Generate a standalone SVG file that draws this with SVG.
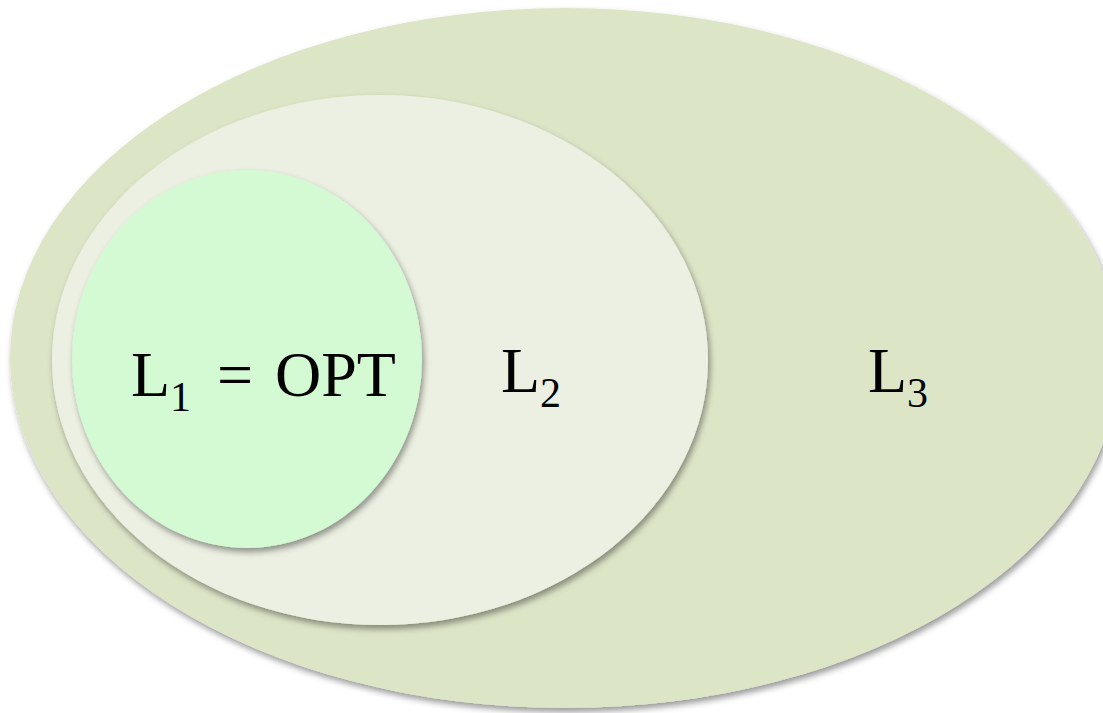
<svg xmlns="http://www.w3.org/2000/svg" width="1103" height="713" viewBox="0 0 1103 713">
<defs>
<filter id="sh" x="-10%" y="-10%" width="120%" height="120%">
<feDropShadow dx="2" dy="4" stdDeviation="3" flood-color="#000" flood-opacity="0.4"/>
</filter>
<style>
.lbl{font-family:"Liberation Serif","Times New Roman",serif;fill:#000}
.big{font-size:64px}
.sub{font-size:42px}
</style>
</defs>
<rect width="1103" height="713" fill="#fff"/>
<g id="L3"><ellipse cx="565" cy="358" rx="555" ry="350" fill="#DDE5C7" filter="url(#sh)"/>
<text class="lbl" x="868" y="392"><tspan class="big">L</tspan><tspan class="sub" dy="15">3</tspan></text></g>
<g id="L2"><ellipse cx="380" cy="360" rx="328" ry="265" fill="#ECF0E2" filter="url(#sh)"/>
<text class="lbl" x="501" y="392"><tspan class="big">L</tspan><tspan class="sub" dy="15">2</tspan></text></g>
<g id="L1"><ellipse cx="247" cy="359" rx="175" ry="189" fill="#D3FAD3" filter="url(#sh)"/>
<text class="lbl" x="131" y="396"><tspan class="big">L</tspan><tspan class="sub" dy="15">1</tspan><tspan class="big" dy="-15" x="217">=</tspan><tspan class="big" x="275">OPT</tspan></text></g>
<g id="connectors"/>
</svg>
